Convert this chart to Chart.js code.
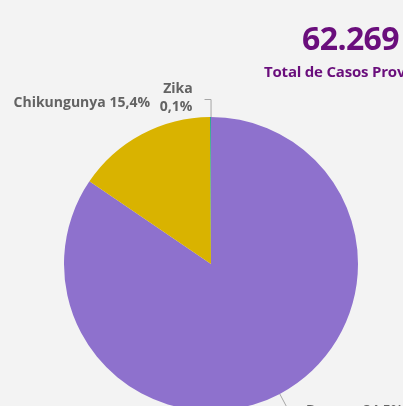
<!DOCTYPE html>
<html>
<head>
<meta charset="utf-8">
<script src="https://cdn.jsdelivr.net/npm/chart.js@4.4.1/dist/chart.umd.min.js"></script>
<style>
  html, body { margin:0; padding:0; background:#F3F3F3; width:403px; height:406px; overflow:hidden; }
  #wrap { position:relative; width:403px; height:406px; overflow:hidden; }
  canvas { position:absolute; left:0; top:0; }
  .card { position:absolute; color:#6A0E7C; font-family:"Open Sans", sans-serif; font-weight:700; white-space:nowrap; }
  #total { left:302px; top:16px; font-size:32px; letter-spacing:-0.6px; }
  #sub { left:264px; top:61px; font-size:15px; letter-spacing:-0.2px; }
</style>
</head>
<body>
<div id="wrap">
  <canvas id="c" width="403" height="420" style="width:403px;height:420px"></canvas>
  <div class="card" id="total">62.269</div>
  <div class="card" id="sub">Total de Casos Prováveis</div>
</div>
<script>
const categories = ["Dengue", "Chikungunya", "Zika"];
const caseValues = [52618, 9589, 62];
const percentLabels = ["84,5%", "15,4%", "0,1%"];
const sliceColors = ["#8E71CD", "#D9B300", "#1C9E8C"];

const labelPlugin = {
  id: 'outsideLabels',
  afterDraw(chart) {
    const ctx = chart.ctx;
    const arcs = chart.getDatasetMeta(0).data;
    ctx.save();
    ctx.font = '700 14px "Open Sans", sans-serif';
    ctx.fillStyle = '#636363';
    ctx.strokeStyle = '#A6A6A6';
    ctx.lineWidth = 1;
    arcs.forEach((arc, i) => {
      const p = arc.getProps(['x','y','startAngle','endAngle','outerRadius'], true);
      const mid = (p.startAngle + p.endAngle) / 2;
      const ax = p.x + Math.cos(mid) * p.outerRadius;
      const ay = p.y + Math.sin(mid) * p.outerRadius;
      if (i === 0) {
        const bx = p.x + Math.cos(mid) * (p.outerRadius + 18);
        const by = p.y + Math.sin(mid) * (p.outerRadius + 18);
        ctx.beginPath(); ctx.moveTo(ax, ay); ctx.lineTo(bx, by); ctx.lineTo(bx + 8, by); ctx.stroke();
        ctx.textAlign = 'left'; ctx.textBaseline = 'middle';
        ctx.fillText(categories[i] + ' ' + percentLabels[i], 306, 411);
      } else if (i === 1) {
        ctx.textAlign = 'right'; ctx.textBaseline = 'middle';
        ctx.fillText(categories[i] + ' ' + percentLabels[i], 150, 103);
      } else {
        const topY = p.y - p.outerRadius;
        ctx.beginPath(); ctx.moveTo(ax + 0.5, topY); ctx.lineTo(ax + 0.5, topY - 17.5); ctx.lineTo(ax - 6, topY - 17.5); ctx.stroke();
        ctx.textAlign = 'center'; ctx.textBaseline = 'middle';
        ctx.fillText(categories[i], 178, 89);
        ctx.fillText(percentLabels[i], 176, 107);
      }
    });
    ctx.restore();
  }
};

new Chart(document.getElementById('c'), {
  type: 'pie',
  data: {
    labels: categories,
    datasets: [{ data: caseValues, backgroundColor: sliceColors, borderWidth: 0 }]
  },
  options: {
    responsive: false,
    animation: false,
    layout: { padding: { left: 64, right: 45, top: 117, bottom: 9 } },
    plugins: { legend: { display: false }, tooltip: { enabled: false } }
  },
  plugins: [labelPlugin]
});
</script>
</body>
</html>
